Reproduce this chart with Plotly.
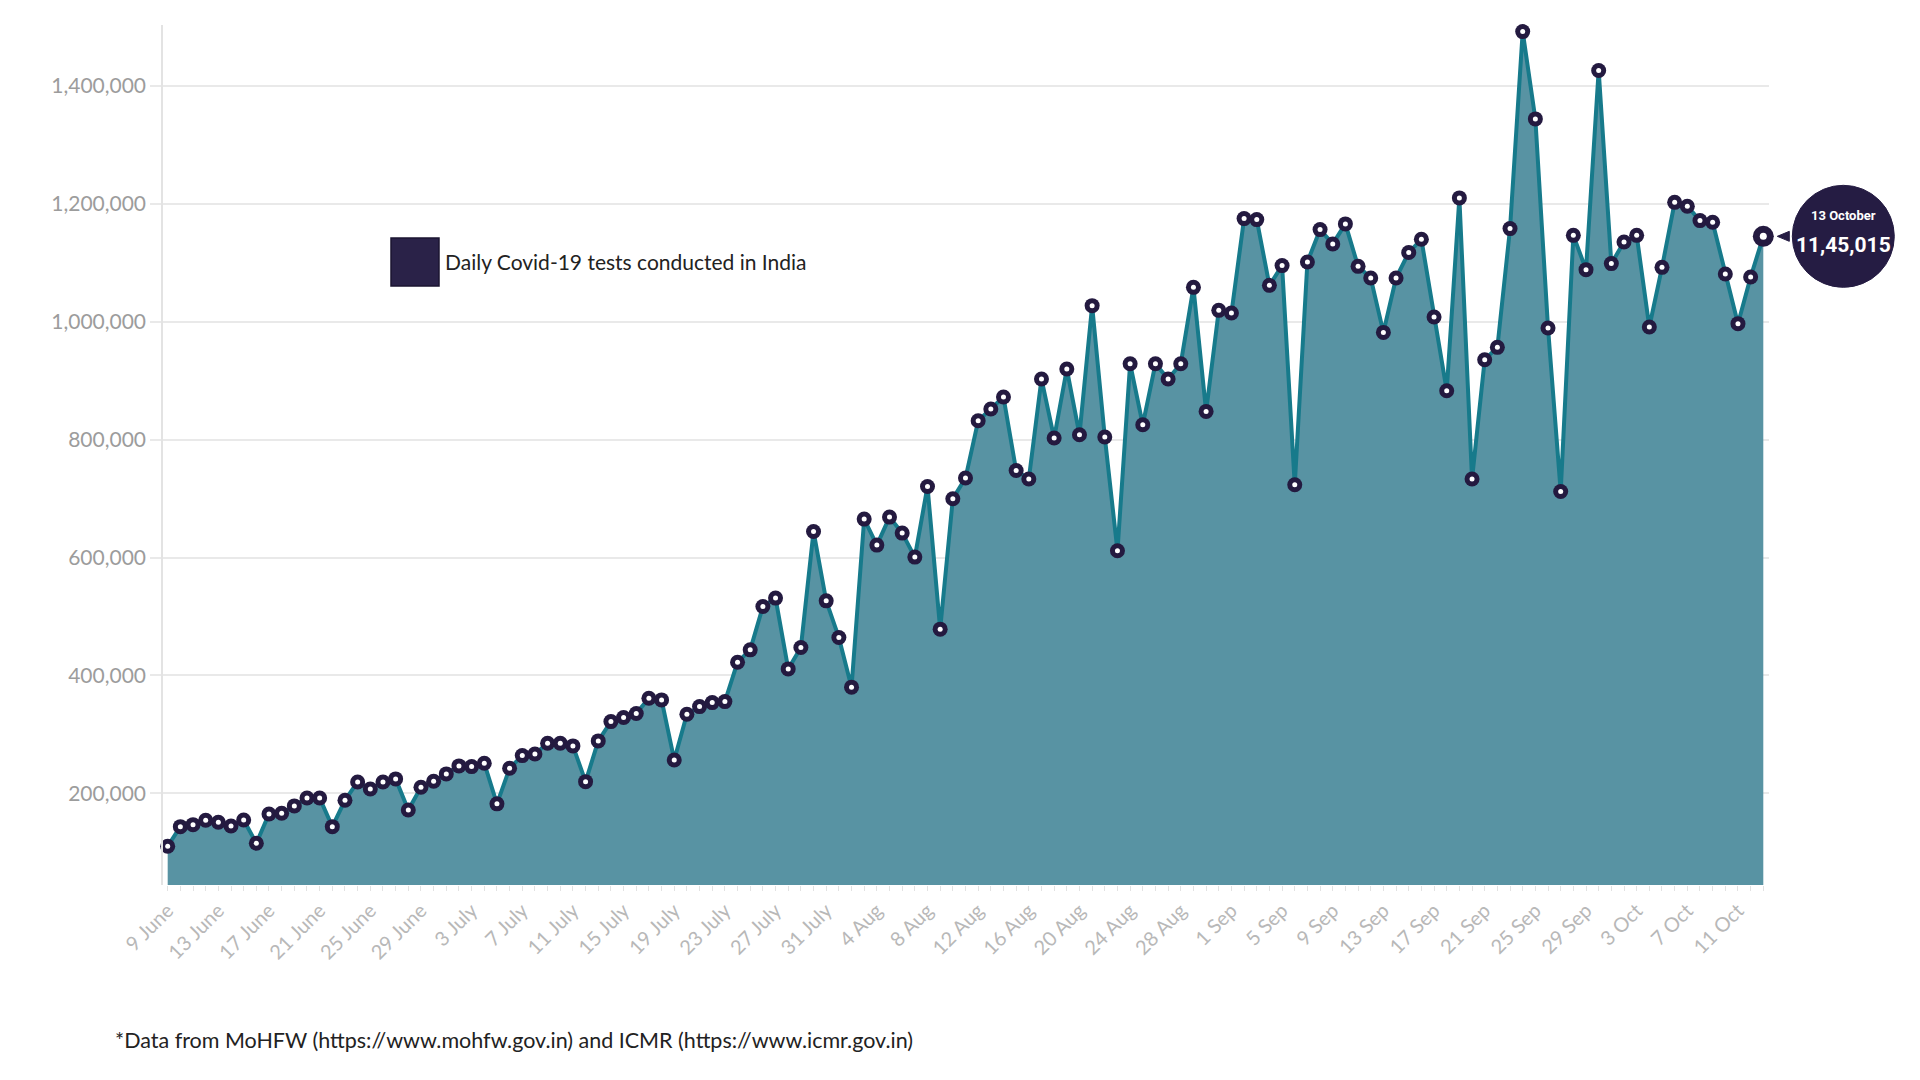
import pandas as pd
import plotly.graph_objects as go

# ---------------- data ----------------
start_date = "2020-06-09"
end_date = "2020-10-13"
dates = pd.date_range(start_date, end_date, freq="D")

daily_tests = [
    110000, 143300, 146700, 154200, 150700, 144500, 154700, 115100, 164900, 166000,
    178500, 192000, 192000, 143300, 188100, 219200, 207300, 219200, 224300, 171600,
    210200, 220400, 232800, 246400, 245200, 250900, 182000, 242400, 263900, 266700,
    284900, 284900, 280300, 219700, 288800, 321600, 328400, 335200, 361300, 358400,
    256500, 334100, 347000, 353800, 355500, 422400, 443300, 516800, 531100, 411000,
    447300, 644200, 526500, 464300, 380000, 665200, 621100, 668600, 641400, 600700,
    720600, 478400, 699700, 734800, 832100, 852000, 872400, 747700, 733100, 902900,
    802700, 919900, 808400, 1027400, 804400, 611400, 928900, 825300, 928900, 902900,
    928900, 1058400, 847900, 1019400, 1014900, 1175100, 1173400, 1061800, 1095300, 723400,
    1101500, 1156400, 1132100, 1166100, 1094100, 1074300, 982000, 1074300, 1117500, 1140000,
    1008200, 883100, 1210200, 733100, 935700, 956600, 1158100, 1492409, 1344300, 989500,
    712100, 1146700, 1088500, 1426400, 1098700, 1135500, 1146700, 991200, 1092400, 1202700,
    1196000, 1171700, 1168800, 1081200, 996800, 1076100, 1145015,
]

tick_labels = [
    "9 June", "13 June", "17 June", "21 June", "25 June", "29 June",
    "3 July", "7 July", "11 July", "15 July", "19 July", "23 July", "27 July", "31 July",
    "4 Aug", "8 Aug", "12 Aug", "16 Aug", "20 Aug", "24 Aug", "28 Aug",
    "1 Sep", "5 Sep", "9 Sep", "13 Sep", "17 Sep", "21 Sep", "25 Sep", "29 Sep",
    "3 Oct", "7 Oct", "11 Oct",
]
tick_every = 4
y_ticks = [200000, 400000, 600000, 800000, 1000000, 1200000, 1400000]

series_name = "Daily Covid-19 tests conducted in India"
badge_label = "13 October"
footnote = "*Data from MoHFW (https://www.mohfw.gov.in) and ICMR (https://www.icmr.gov.in)"

# ---------------- styling ----------------
W, H = 1920, 1080
ML, MR, MT, MB = 163, 151, 25, 195
plot_w = W - ML - MR
plot_h = H - MT - MB
Y_MIN, Y_MAX = 44300, 1503600
PAD_L, PAD_R = 0.37, 0.45  # days

LINE = "#177a8b"
FILL = "#5893a3"
DARK = "#241a40"
BADGE = "#251c43"
GRID = "#e9e9e9"


def indian_format(n):
    s = str(int(n))
    if len(s) <= 3:
        return s
    head, tail = s[:-3], s[-3:]
    parts = []
    while len(head) > 2:
        parts.insert(0, head[-2:])
        head = head[:-2]
    if head:
        parts.insert(0, head)
    return ",".join(parts + [tail])


n = len(daily_tests)
outer_sizes = [15] * (n - 1) + [21]
inner_sizes = [5] * (n - 1) + [7]

fig = go.Figure()
fig.add_trace(go.Scatter(
    x=dates, y=daily_tests, mode="lines", fill="tozeroy",
    fillcolor=FILL, line=dict(color=LINE, width=4),
    name=series_name, showlegend=False, hoverinfo="x+y",
))
fig.add_trace(go.Scatter(
    x=dates, y=daily_tests, mode="markers", cliponaxis=False,
    marker=dict(color=DARK, size=outer_sizes, opacity=1, line=dict(width=0)),
    showlegend=False, hoverinfo="skip",
))
fig.add_trace(go.Scatter(
    x=dates, y=daily_tests, mode="markers", cliponaxis=False,
    marker=dict(color="white", size=inner_sizes, opacity=1, line=dict(width=0)),
    showlegend=False, hoverinfo="skip",
))

x_range = [dates[0] - pd.Timedelta(days=PAD_L), dates[-1] + pd.Timedelta(days=PAD_R)]

fig.update_layout(
    width=W, height=H,
    margin=dict(l=ML, r=MR, t=MT, b=MB, pad=0),
    paper_bgcolor="white", plot_bgcolor="white",
    font=dict(family="Lato", color="#222222"),
    xaxis=dict(
        range=x_range, showgrid=False, zeroline=False, showline=False,
        tickmode="array", tickvals=list(dates[::tick_every]), ticktext=tick_labels,
        tickangle=-45, tickfont=dict(family="Lato", size=20, color="#b8b8b8"),
        ticks="outside", ticklen=5, tickcolor="#e2e2e2",
        minor=dict(ticks="outside", ticklen=5, tickcolor="#e2e2e2",
                   dtick=86400000, tick0=dates[0], showgrid=False),
    ),
    yaxis=dict(
        range=[Y_MIN, Y_MAX], tickvals=y_ticks, tickformat=",",
        showgrid=True, gridcolor=GRID, gridwidth=1.5, zeroline=False,
        showline=True, linecolor="#e3e3e3", linewidth=1.5,
        ticks="outside", ticklen=11, tickcolor=GRID, tickwidth=1.5,
        tickfont=dict(family="Lato", size=21, color="#9c9c9c"),
    ),
)

# ----- badge for last value -----
fx = ((n - 1) + PAD_L) / ((n - 1) + PAD_L + PAD_R)
fy = (daily_tests[-1] - Y_MIN) / (Y_MAX - Y_MIN)
R = 51
CX = 80
fig.add_shape(type="circle", xref="x domain", yref="y domain",
              xsizemode="pixel", ysizemode="pixel", xanchor=fx, yanchor=fy,
              x0=CX - R, x1=CX + R, y0=-R, y1=R,
              fillcolor=BADGE, line=dict(color=BADGE, width=1), layer="above")
fig.add_shape(type="path", xref="x domain", yref="y domain",
              xsizemode="pixel", ysizemode="pixel", xanchor=fx, yanchor=fy,
              path="M 14 0 L 26 5 L 26 -5 Z",
              fillcolor=BADGE, line=dict(color=BADGE, width=1), layer="above")
fig.add_annotation(xref="x domain", yref="y domain", x=fx, y=fy, xshift=CX, yshift=21,
                   xanchor="center", yanchor="middle",
                   text="<b>" + badge_label + "</b>", showarrow=False,
                   font=dict(family="Roboto", size=13, color="white"))
fig.add_annotation(xref="x domain", yref="y domain", x=fx, y=fy, xshift=CX, yshift=-9,
                   xanchor="center", yanchor="middle",
                   text="<b>" + indian_format(daily_tests[-1]) + "</b>", showarrow=False,
                   font=dict(family="Roboto", size=21, color="white"))


# ----- legend (custom) -----
def px_x(p):
    return (p - ML) / plot_w


def px_y(p):
    return (H - MB - p) / plot_h


fig.add_shape(type="rect", xref="paper", yref="paper",
              x0=px_x(391), x1=px_x(439), y0=px_y(286), y1=px_y(238),
              fillcolor="#2a2248", line=dict(color="#1b1531", width=1.5))
fig.add_annotation(xref="paper", yref="paper", x=px_x(443), y=px_y(261),
                   xanchor="left", yanchor="middle", text=series_name, showarrow=False,
                   font=dict(family="Lato", size=21, color="#222222"))

# ----- footnote -----
fig.add_annotation(xref="paper", yref="paper", x=px_x(113), y=px_y(1040),
                   xanchor="left", yanchor="middle", text=footnote, showarrow=False,
                   font=dict(family="Lato", size=21.5, color="#222222"))

fig.write_html("out.html", config={"displayModeBar": False},
               post_script="document.body.style.margin='0';document.body.style.overflow='hidden';")
